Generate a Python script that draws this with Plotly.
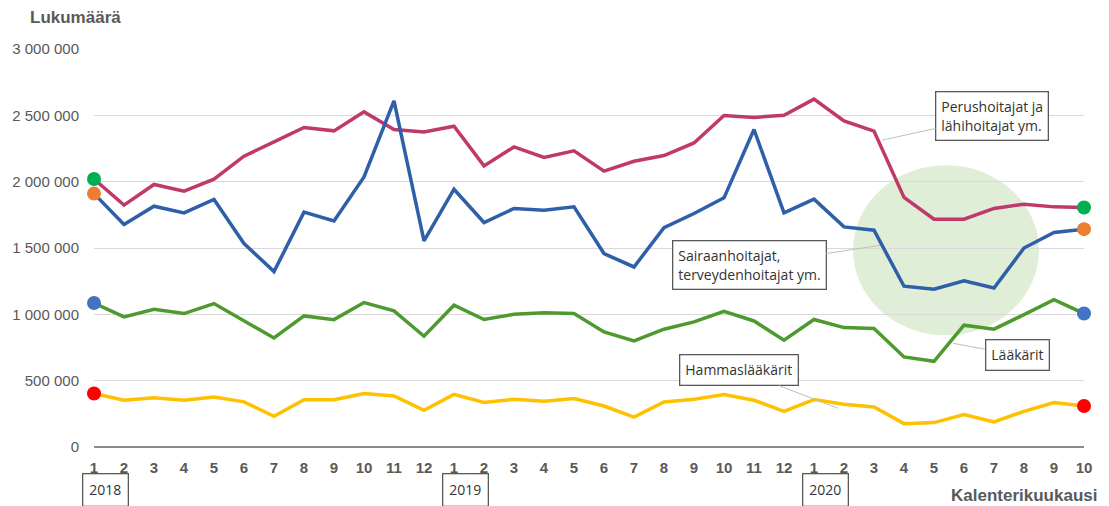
import plotly.graph_objects as go

month_labels = [str(m) for m in range(1, 13)] + [str(m) for m in range(1, 13)] + [str(m) for m in range(1, 11)]
x_idx = list(range(len(month_labels)))

perushoitajat = [2020000, 1823000, 1979000, 1928000, 2019000, 2192000, 2300000, 2408000, 2383000, 2526000,
                 2393000, 2375000, 2418000, 2119000, 2262000, 2182000, 2232000, 2079000, 2154000, 2197000,
                 2292000, 2499000, 2484000, 2501000, 2622000, 2458000, 2381000, 1881000, 1717000, 1717000,
                 1798000, 1830000, 1810000, 1805000]
sairaanhoitajat = [1910000, 1677000, 1815000, 1765000, 1866000, 1534000, 1322000, 1770000, 1704000, 2036000,
                   2609000, 1553000, 1943000, 1692000, 1798000, 1785000, 1810000, 1458000, 1357000, 1654000,
                   1760000, 1878000, 2393000, 1765000, 1868000, 1659000, 1634000, 1212000, 1189000, 1252000,
                   1199000, 1500000, 1617000, 1642000]
laakarit = [1085000, 981000, 1038000, 1006000, 1081000, 955000, 822000, 988000, 960000, 1089000,
            1026000, 835000, 1069000, 961000, 1001000, 1011000, 1006000, 867000, 799000, 888000,
            943000, 1023000, 950000, 805000, 961000, 900000, 893000, 679000, 646000, 918000,
            888000, 998000, 1111000, 1006000]
hammaslaakarit = [403000, 352000, 372000, 352000, 377000, 340000, 232000, 357000, 357000, 403000,
                  385000, 277000, 397000, 335000, 360000, 345000, 365000, 309000, 226000, 340000,
                  360000, 395000, 352000, 269000, 357000, 322000, 302000, 176000, 184000, 244000,
                  189000, 269000, 335000, 309000]

series_names = ["Perushoitajat ja lähihoitajat ym.", "Sairaanhoitajat, terveydenhoitajat ym.",
                "Lääkärit", "Hammaslääkärit"]
series_values = [perushoitajat, sairaanhoitajat, laakarit, hammaslaakarit]
line_colors = ["#C0396B", "#2E5FA8", "#4E9A2E", "#FFC000"]
dot_colors = ["#00B050", "#ED7D31", "#4472C4", "#FF0000"]

year_labels = ["2018", "2019", "2020"]
year_start_idx = [0, 12, 24]

y_tickvals = [0, 500000, 1000000, 1500000, 2000000, 2500000, 3000000]
y_ticktext = ["0", "500 000", "1 000 000", "1 500 000", "2 000 000", "2 500 000", "3 000 000"]

fig = go.Figure()

# highlight circle
fig.add_shape(type="circle", xref="x", yref="y", x0=25.3, x1=31.5, y0=842000, y1=2124000,
              fillcolor="rgba(205,226,188,0.6)", line=dict(width=0), layer="below")

for name, vals, col in zip(series_names, series_values, line_colors):
    fig.add_trace(go.Scatter(x=x_idx, y=vals, mode="lines", name=name,
                             line=dict(color=col, width=3.5), showlegend=False, hoverinfo="skip"))
for name, vals, dc in zip(series_names, series_values, dot_colors):
    fig.add_trace(go.Scatter(x=[x_idx[0], x_idx[-1]], y=[vals[0], vals[-1]], mode="markers",
                             marker=dict(color=dc, size=14), showlegend=False, hoverinfo="skip", cliponaxis=False))

ann_font = dict(family="Open Sans, Noto Sans, sans-serif", size=14, color="#333333")
leader = "#b8c6aa"

callouts = [
    ("Perushoitajat ja<br>lähihoitajat ym.", 29.93, 2494000, 26.27, 2313000),
    ("Sairaanhoitajat,<br>terveydenhoitajat ym.", 21.85, 1370000, 26.2, 1520000),
    ("Lääkärit", 30.77, 692000, 28.63, 782000),
    ("Hammaslääkärit", 21.5, 578000, 24.8, 292000),
]
for text, tx, ty, px, py in callouts:
    fig.add_annotation(text=text, x=px, y=py, ax=tx, ay=ty, xref="x", yref="y", axref="x", ayref="y",
                       showarrow=True, arrowhead=0, arrowwidth=1, arrowcolor=leader,
                       font=ann_font, align="left", bgcolor="white", bordercolor="#595959",
                       borderwidth=1.3, borderpad=5)

for lab, idx in zip(year_labels, year_start_idx):
    fig.add_annotation(text=lab, x=idx + 0.37, y=(447 - 490) / 398, xref="x", yref="paper",
                       xanchor="center", yanchor="middle", showarrow=False,
                       font=dict(family="Open Sans, Noto Sans, sans-serif", size=14, color="#333333"),
                       bgcolor="white", bordercolor="#595959", borderwidth=1.3, borderpad=6)

fig.add_annotation(text="<b>Lukumäärä</b>", xref="paper", yref="paper",
                   x=(28 - 94) / 990, y=(447 - 17) / 398, xanchor="left", yanchor="middle",
                   showarrow=False, font=dict(size=17, color="#595959", family="Liberation Sans, Arial, sans-serif"))
fig.add_annotation(text="<b>Kalenterikuukausi</b>", xref="paper", yref="paper",
                   x=(1099 - 94) / 990, y=(447 - 495) / 398, xanchor="right", yanchor="middle",
                   showarrow=False, font=dict(size=17, color="#595959", family="Liberation Sans, Arial, sans-serif"))

# page body has an 8px margin: the figure starts at (8, 8)
fig.update_layout(
    width=1101, height=498,
    margin=dict(l=86, r=25, t=41, b=59),
    plot_bgcolor="white", paper_bgcolor="white",
    font=dict(family="Liberation Sans, Arial, sans-serif", color="#595959"),
    xaxis=dict(range=[0, 33], tickvals=x_idx, ticktext=month_labels, showgrid=False,
               zeroline=False, showline=False, ticks="", automargin=False,
               tickfont=dict(size=15, color="#595959", weight="bold"), ticklabelstandoff=10),
    yaxis=dict(range=[0, 3000000], tickvals=y_tickvals, ticktext=y_ticktext,
               showgrid=True, gridcolor="#d9d9d9", gridwidth=1, zeroline=True,
               zerolinecolor="#8c8c8c", zerolinewidth=2, ticks="", automargin=False,
               tickfont=dict(size=15, color="#595959"), ticklabelstandoff=14),
)

fig.write_html("out.html")
